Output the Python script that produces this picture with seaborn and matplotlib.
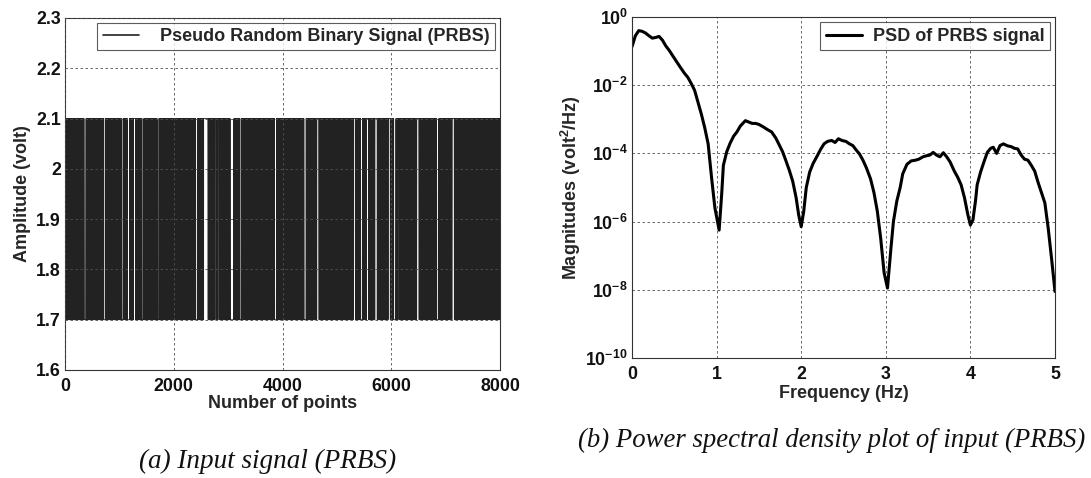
import numpy as np
import pandas as pd
import matplotlib
matplotlib.use("Agg")
import matplotlib.pyplot as plt
import matplotlib.ticker as mticker
import seaborn as sns

# ---------------- data ----------------
# (a) PRBS input signal: 8000 samples switching between two levels.
n_points = 8000
level_low = 1.7
level_high = 2.1
# long holds (white stripes): centre sample, hold length (samples)
hold_center = [368, 730, 1050, 1165, 1280, 1432, 1710, 2420, 2590, 2775, 2815,
               3070, 3220, 3870, 4413, 4650, 5318, 5450, 5560, 5720, 5960,
               6065, 6125, 6490, 6855, 7138]
hold_length = [35, 35, 35, 40, 40, 35, 35, 35, 80, 35, 30,
               70, 35, 35, 40, 40, 40, 35, 40, 40, 40,
               40, 30, 40, 40, 40]

# (b) PSD of PRBS signal (frequency in Hz, log10 of magnitude in volt^2/Hz)
psd_freq = [0.00, 0.04, 0.08, 0.12, 0.16, 0.20, 0.24, 0.28, 0.32, 0.36, 0.40, 0.44,
            0.49, 0.53, 0.57, 0.62, 0.66, 0.70, 0.74, 0.78, 0.82, 0.86, 0.90, 0.94,
            0.98, 1.03, 1.06, 1.08, 1.12, 1.16, 1.20, 1.24, 1.28, 1.34, 1.38, 1.42,
            1.46, 1.50, 1.55, 1.60, 1.65, 1.70, 1.74, 1.78, 1.82, 1.86, 1.90, 1.94,
            1.97, 2.00, 2.03, 2.06, 2.10, 2.14, 2.19, 2.23, 2.27, 2.31, 2.36, 2.40,
            2.44, 2.48, 2.53, 2.57, 2.61, 2.65, 2.69, 2.73, 2.77, 2.82, 2.86, 2.90,
            2.94, 2.98, 3.02, 3.06, 3.09, 3.13, 3.17, 3.20, 3.25, 3.30, 3.35, 3.39,
            3.44, 3.48, 3.52, 3.56, 3.60, 3.64, 3.68, 3.72, 3.76, 3.81, 3.85, 3.89,
            3.93, 3.97, 4.00, 4.03, 4.06, 4.08, 4.12, 4.16, 4.20, 4.24, 4.27, 4.31,
            4.35, 4.39, 4.44, 4.48, 4.52, 4.56, 4.60, 4.64, 4.68, 4.72, 4.76, 4.80,
            4.84, 4.88, 4.92, 4.96, 5.00]
psd_log10 = [-0.87, -0.55, -0.40, -0.42, -0.47, -0.55, -0.62, -0.60, -0.57, -0.68, -0.85, -0.98,
             -1.17, -1.32, -1.47, -1.65, -1.77, -1.95, -2.15, -2.50, -2.85, -3.25, -3.72, -4.70,
             -5.60, -6.25, -5.20, -4.35, -3.95, -3.70, -3.50, -3.37, -3.20, -3.04, -3.08, -3.12,
             -3.12, -3.15, -3.22, -3.30, -3.37, -3.55, -3.75, -3.95, -4.22, -4.50, -4.82, -5.30,
             -5.80, -6.15, -5.70, -5.00, -4.55, -4.30, -4.07, -3.88, -3.72, -3.65, -3.62, -3.68,
             -3.57, -3.62, -3.65, -3.72, -3.77, -3.90, -4.02, -4.20, -4.42, -4.75, -5.15, -5.70,
             -6.50, -7.50, -7.95, -6.80, -6.00, -5.40, -5.00, -4.60, -4.32, -4.22, -4.20, -4.17,
             -4.10, -4.07, -4.05, -3.97, -4.05, -4.10, -3.98, -4.10, -4.25, -4.52, -4.70, -4.92,
             -5.30, -5.80, -6.10, -5.95, -5.40, -4.92, -4.55, -4.25, -3.97, -3.85, -3.82, -4.00,
             -3.77, -3.72, -3.78, -3.80, -3.85, -3.87, -4.05, -4.17, -4.20, -4.35, -4.52, -4.85,
             -5.15, -5.45, -6.20, -7.10, -8.05]

left_yticks = [1.6, 1.7, 1.8, 1.9, 2.0, 2.1, 2.2, 2.3]
left_yticklabels = ["1.6", "1.7", "1.8", "1.9", "2", "2.1", "2.2", "2.3"]
left_xticks = [0, 2000, 4000, 6000, 8000]
right_xticks = [0, 1, 2, 3, 4, 5]
right_yexp = [0, -2, -4, -6, -8, -10]

# ---------------- build series ----------------
idx = np.arange(n_points)
signal = np.where(idx % 2 == 0, level_high, level_low).astype(float)
for c, w in zip(hold_center, hold_length):
    s = max(c - w // 2, 0)
    signal[s:s + w] = signal[s]
df_sig = pd.DataFrame({"n": idx, "amp": signal})
df_psd = pd.DataFrame({"f": psd_freq, "p": 10.0 ** np.array(psd_log10)})

# ---------------- style ----------------
sns.set_theme(style="white")
plt.rcParams["font.family"] = ["Liberation Sans", "DejaVu Sans"]
plt.rcParams["font.weight"] = "bold"
plt.rcParams["axes.labelweight"] = "bold"
plt.rcParams["mathtext.fontset"] = "custom"
plt.rcParams["mathtext.rm"] = "Liberation Sans:bold"
plt.rcParams["mathtext.it"] = "Liberation Sans:bold"
plt.rcParams["mathtext.bf"] = "Liberation Sans:bold"
plt.rcParams["mathtext.default"] = "rm"

fs_tick = 12.8
fs_label = 13
fs_leg = 13
grid_kw = dict(color="#505050", linestyle=(0, (3, 3)), linewidth=0.6)

fig = plt.figure(figsize=(10.91, 4.78), dpi=100)
ax1 = fig.add_axes([65 / 1091, 1 - 370 / 478, 435 / 1091, 352 / 478])
ax2 = fig.add_axes([632 / 1091, 1 - 358 / 478, 423 / 1091, 341 / 478])

# (a) PRBS
sns.lineplot(data=df_sig, x="n", y="amp", ax=ax1, color="#222222", linewidth=0.6,
             estimator=None, sort=False, label="Pseudo Random Binary Signal (PRBS)")
ax1.set_xlim(0, 8000)
ax1.set_ylim(1.6, 2.3)
ax1.set_xticks(left_xticks)
ax1.set_yticks(left_yticks)
ax1.set_yticklabels(left_yticklabels)
ax1.set_xlabel("Number of points", fontsize=fs_label, fontweight="bold", labelpad=0)
ax1.set_ylabel("Amplitude (volt)", fontsize=fs_label, fontweight="bold", labelpad=4)
ax1.set_axisbelow(False)
ax1.grid(True, **grid_kw)
leg1 = ax1.legend(loc="upper right", frameon=True, fancybox=False, edgecolor="#333333",
                  prop=dict(size=fs_leg, weight="bold"), handlelength=2.0,
                  borderaxespad=0.25, borderpad=0.3, handletextpad=1.2)
leg1.get_frame().set_linewidth(0.8)
for line in leg1.get_lines():
    line.set_linewidth(1.2)

# (b) PSD
sns.lineplot(data=df_psd, x="f", y="p", ax=ax2, color="black", linewidth=2.2,
             estimator=None, sort=False, label="PSD of PRBS signal")
ax2.set_yscale("log")
ax2.set_xlim(0, 5)
ax2.set_ylim(1e-10, 1e0)
ax2.set_xticks(right_xticks)
ax2.set_xticklabels([str(v) for v in right_xticks])
ax2.yaxis.set_major_locator(mticker.FixedLocator([10.0 ** e for e in right_yexp]))
ax2.yaxis.set_major_formatter(mticker.FixedFormatter(["$10^{%d}$" % e for e in right_yexp]))
ax2.yaxis.set_minor_locator(mticker.NullLocator())
ax2.set_xlabel("Frequency (Hz)", fontsize=fs_label, fontweight="bold", labelpad=2)
ax2.set_ylabel("Magnitudes (volt$^{2}$/Hz)", fontsize=fs_label, fontweight="bold", labelpad=2)
ax2.grid(True, **grid_kw)
leg2 = ax2.legend(loc="upper right", frameon=True, fancybox=False, edgecolor="#333333",
                  prop=dict(size=fs_leg, weight="bold"), handlelength=2.0,
                  borderaxespad=0.3, borderpad=0.3, handletextpad=0.6)
leg2.get_frame().set_linewidth(0.8)

for ax in (ax1, ax2):
    for sp in ax.spines.values():
        sp.set_color("#333333")
        sp.set_linewidth(0.8)
    ax.tick_params(axis="both", which="both", direction="in", length=3, width=0.6,
                   labelsize=fs_tick, colors="#111111", pad=3)
    ax.tick_params(axis="x", pad=5.5)
    for lab in ax.get_xticklabels() + ax.get_yticklabels():
        lab.set_fontweight("bold")

# captions
fig.text(268 / 1091, 1 - 461 / 478, "(a) Input signal (PRBS)", ha="center", va="center",
         fontsize=19.5, family=["Liberation Serif", "DejaVu Serif"], style="italic",
         fontweight="normal", color="#111111")
fig.text(832 / 1091, 1 - 440 / 478, "(b) Power spectral density plot of input (PRBS)",
         ha="center", va="center", fontsize=19.3, family=["Liberation Serif", "DejaVu Serif"],
         style="italic", fontweight="normal", color="#111111")

fig.savefig("out.png", dpi=100)
